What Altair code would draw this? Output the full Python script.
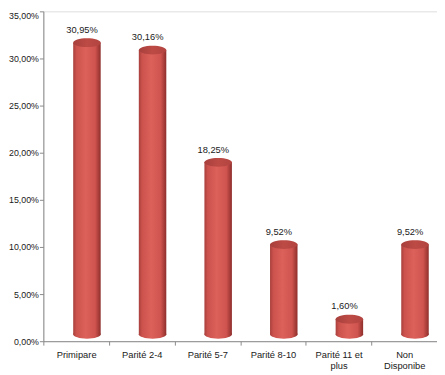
import altair as alt
import pandas as pd

categories = ["Primipare", "Parité 2-4", "Parité 5-7", "Parité 8-10", "Parité 11 et plus", "Non Disponibe"]
values = [30.95, 30.16, 18.25, 9.52, 1.60, 9.52]
y_ticks = [0, 5, 10, 15, 20, 25, 30, 35]

df = pd.DataFrame({"cat": categories, "val": values})
df["zero"] = 0.0

FONT = "Liberation Sans"
XOFF = 11
YOFF = -7
BAR_W = 28

ellipse = ("M-1,0C-1,-0.177,-0.552,-0.32,0,-0.32C0.552,-0.32,1,-0.177,1,0"
           "C1,0.177,0.552,0.32,0,0.32C-0.552,0.32,-1,0.177,-1,0Z")

body_grad = alt.Gradient(
    gradient="linear", x1=0, x2=1, y1=0, y2=0,
    stops=[
        alt.GradientStop(offset=0, color="#a8403c"),
        alt.GradientStop(offset=0.12, color="#cc524d"),
        alt.GradientStop(offset=0.45, color="#dc615b"),
        alt.GradientStop(offset=0.8, color="#cf534e"),
        alt.GradientStop(offset=1, color="#8e2f2c"),
    ],
)
top_grad = alt.Gradient(
    gradient="linear", x1=0, x2=1, y1=0, y2=0,
    stops=[
        alt.GradientStop(offset=0, color="#a7403c"),
        alt.GradientStop(offset=0.5, color="#bd4a45"),
        alt.GradientStop(offset=1, color="#b24440"),
    ],
)

label_expr = ("datum.label == 'Parité 11 et plus' ? ['Parité 11 et', 'plus'] : "
              "datum.label == 'Non Disponibe' ? ['Non', 'Disponibe'] : datum.label")

x_enc = alt.X(
    "cat:N", sort=categories, title=None,
    scale=alt.Scale(paddingInner=0, paddingOuter=0),
    axis=alt.Axis(
        labelAngle=0, labelExpr=label_expr, labelFont=FONT, labelFontSize=9.5,
        labelColor="#1a1a1a", labelPadding=5, labelLineHeight=10.5,
        tickBand="extent", tickSize=4, tickColor="#8a8a8a",
        domainColor="#8a8a8a", labelLimit=80,
    ),
)
y_scale = alt.Scale(domain=[0, 35], nice=False, zero=True)
y_enc = alt.Y(
    "val:Q", scale=y_scale, title=None,
    axis=alt.Axis(
        values=y_ticks, grid=False, labelFont=FONT, labelFontSize=9,
        labelColor="#1a1a1a", tickSize=4, tickColor="#8a8a8a",
        domainColor="#8a8a8a", labelPadding=1,
        labelExpr="replace(format(datum.value, '.2f'), '.', ',') + '%'",
        labelBaseline=alt.condition("datum.value == 35", alt.value("top"), alt.value("middle")),
    ),
)

base = alt.Chart(df)

bars = base.mark_bar(
    size=BAR_W, xOffset=XOFF, yOffset=YOFF, y2Offset=YOFF, color=body_grad,
).encode(x=x_enc, y=y_enc, y2="zero:Q")

bottom = base.mark_point(
    shape=ellipse, size=BAR_W * BAR_W, filled=True, fill=body_grad, opacity=1,
    strokeWidth=0, xOffset=XOFF, yOffset=YOFF,
).encode(x=x_enc, y=alt.Y("zero:Q", scale=y_scale))

tops = base.mark_point(
    shape=ellipse, size=BAR_W * BAR_W, filled=True, fill=top_grad, opacity=1,
    strokeWidth=0, xOffset=XOFF, yOffset=YOFF,
).encode(x=x_enc, y=alt.Y("val:Q", scale=y_scale))

labels = base.mark_text(
    font=FONT, fontSize=9.5, color="#1a1a1a", baseline="alphabetic",
    dx=6, dy=-17,
).encode(
    x=x_enc, y=alt.Y("val:Q", scale=y_scale),
    text=alt.Text("lbl:N"),
).transform_calculate(lbl="replace(format(datum.val, '.2f'), '.', ',') + '%'")

chart = alt.layer(bars, bottom, tops, labels).properties(
    width=401, height=336,
    autosize=alt.AutoSizeParams(type="none"),
    padding={"left": 36, "top": 0, "right": 0, "bottom": 30},
).configure_view(stroke=None).configure(background="white")

chart.save("out.html", embed_options={"renderer": "svg", "actions": False})
